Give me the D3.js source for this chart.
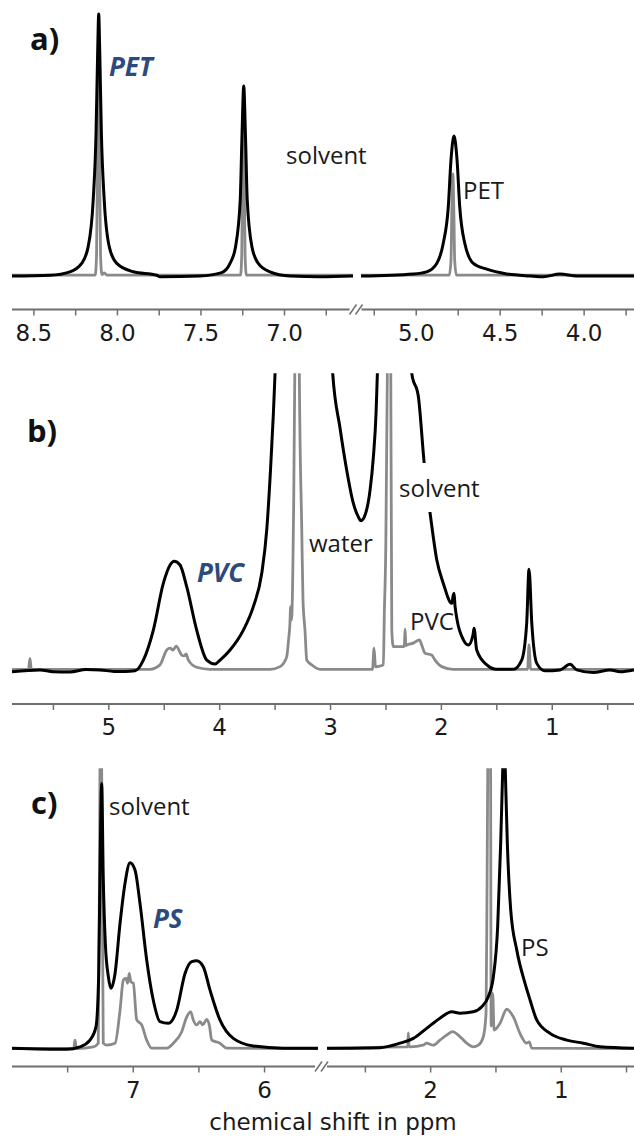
<!DOCTYPE html>
<html>
<head>
<meta charset="UTF-8">
<script src="https://d3js.org/d3.v7.min.js"></script>
<style>
  body { margin: 0; background: #fff; }
  svg { display: block; }
</style>
</head>
<body>
<svg></svg>
<script>
// ---- data: [chemical shift (ppm), intensity (0..100 of panel height)] ----
// a) PET
const petDomain = [8.628, 6.587, 5.326, 3.70];
const petTicks = [8.5, 8.0, 7.5, 7.0, 5.0, 4.5, 4.0];
const petMinor = [8.25, 7.75, 7.25, 6.75, 5.25, 4.75, 4.25, 3.75];
const petBlackLeft = [[8.628,0],[8.40,0.3],[8.281,1.6],[8.211,4.8],[8.172,11.2],[8.142,29],[8.125,54.5],[8.115,86.3],[8.109,100],[8.103,86.3],[8.093,54.5],[8.076,29],[8.046,11.2],[8.001,4.8],[7.902,1.6],[7.762,0.3],[7.742,-0.3],[7.503,0],[7.373,1.3],[7.323,4.8],[7.290,11.2],[7.262,29],[7.251,54.5],[7.241,72.5],[7.231,54.5],[7.220,29],[7.192,11.2],[7.154,4.8],[7.084,1.6],[6.964,0],[6.785,-0.3],[6.587,0]];
const petBlackRight = [[5.326,0],[5.015,0.8],[4.935,1.6],[4.875,4.8],[4.836,12.5],[4.806,26.5],[4.790,44.3],[4.772,53.4],[4.754,44.3],[4.738,26.5],[4.708,12.5],[4.657,4.8],[4.577,2.6],[4.458,0.8],[4.319,0],[4.240,-0.3],[4.141,0.8],[4.041,0],[3.70,0]];
const petGrayLeft = [[8.628,0.3],[8.13,0.3],[8.122,8],[8.116,45],[8.110,80],[8.104,45],[8.098,8],[8.09,0.5],[8.075,1.2],[8.06,0.3],[7.26,0.3],[7.253,8],[7.248,40],[7.243,62],[7.238,40],[7.233,8],[7.225,0.3],[6.587,0.3]];
const petGrayRight = [[5.326,0.3],[4.80,0.3],[4.79,6],[4.785,25],[4.779,39],[4.773,25],[4.768,6],[4.758,0.3],[3.70,0.3]];

// b) PVC
const pvcDomain = [5.869, 0.258];
const pvcTicks = [5, 4, 3, 2, 1];
const pvcMinor = [5.5, 4.5, 3.5, 2.5, 1.5, 0.5];
const pvcBlack = [[5.869,-0.4],[5.616,0.2],[5.50,-0.4],[5.346,-0.5],[5.20,0.3],[5.075,0.2],[4.95,-0.3],[4.849,-0.3],[4.759,-0.1],[4.684,3.5],[4.594,13.6],[4.504,29.3],[4.443,35.5],[4.407,36.8],[4.353,35.5],[4.293,28.2],[4.203,13.6],[4.112,3.5],[4.037,2.2],[3.992,3.5],[3.902,6.9],[3.782,13.6],[3.692,21.5],[3.616,32.7],[3.571,47.3],[3.537,67.5],[3.511,86.5],[3.496,100],[3.478,115],[3.30,400],[3.0,115],[2.976,100],[2.910,81.6],[2.850,67.5],[2.790,56.3],[2.745,51.7],[2.720,50.4],[2.684,52.3],[2.639,60.7],[2.609,71.9],[2.585,86.5],[2.573,100],[2.555,120],[2.48,400],[2.28,120],[2.263,100],[2.203,92.1],[2.152,70.3],[2.125,60.7],[2.098,53.1],[2.037,37.2],[1.978,29.3],[1.902,22.6],[1.888,25.4],[1.881,26],[1.872,21.5],[1.797,10.3],[1.752,8.6],[1.71,12],[1.701,14.2],[1.677,6.9],[1.586,1.9],[1.496,0.4],[1.346,0.4],[1.271,3.5],[1.226,15.9],[1.205,34.1],[1.180,15.9],[1.135,2.4],[1.061,-0.1],[0.925,0.2],[0.835,2.1],[0.774,0.2],[0.625,-0.7],[0.474,0.2],[0.384,-0.4],[0.258,0.2]];
const pvcGray = [[5.869,0.4],[5.72,0.4],[5.707,4.1],[5.695,0.4],[4.624,0.4],[4.534,1.9],[4.473,6.9],[4.443,7.5],[4.416,6.9],[4.389,8.2],[4.338,5.2],[4.317,4.9],[4.299,5.6],[4.278,3.5],[4.203,1.1],[4.083,0.4],[3.541,0.4],[3.451,1.3],[3.391,4.6],[3.374,10.3],[3.363,15],[3.355,21.5],[3.347,17],[3.331,47.3],[3.318,100],[3.298,400],[3.277,100],[3.255,47.3],[3.244,23.7],[3.226,13.6],[3.210,3.5],[3.165,1.9],[3.090,0.4],[2.669,0.4],[2.617,0.4],[2.603,7.5],[2.59,1.2],[2.573,1.3],[2.519,1.9],[2.510,19.8],[2.499,37],[2.483,100],[2.468,400],[2.452,100],[2.443,13.6],[2.429,8],[2.339,8],[2.330,8.2],[2.323,13.9],[2.316,8.4],[2.308,8.6],[2.249,9.2],[2.194,10.3],[2.173,8.6],[2.143,5.8],[2.083,5.2],[2.053,3.5],[1.992,1.3],[1.888,0.4],[1.218,0.4],[1.205,8.6],[1.191,0.4],[0.258,0.4]];

// c) PS
const psDomain = [7.92, 5.589, 2.79, 0.439];
const psTicks = [7, 6, 2, 1];
const psMinor = [7.5, 6.5, 2.5, 1.5, 0.5];
const psBlackLeft = [[7.92,0.1],[7.503,-0.3],[7.402,0.6],[7.326,3.0],[7.280,7.8],[7.260,25.6],[7.250,61.3],[7.237,94.6],[7.225,61.3],[7.209,37.5],[7.186,25.6],[7.166,21.5],[7.135,26.8],[7.097,44.7],[7.059,59],[7.021,66.3],[6.983,63.7],[6.945,51.8],[6.894,31.6],[6.844,17.3],[6.793,9.6],[6.729,9.0],[6.665,13.7],[6.602,26.8],[6.551,31],[6.513,31.3],[6.463,29.2],[6.412,20.9],[6.336,10.2],[6.234,3.6],[6.082,0.9],[5.853,0.1],[5.589,0.1]];
const psBlackRight = [[2.79,0.1],[2.384,0.3],[2.231,1.9],[2.129,3.6],[2.027,7.2],[1.925,10.8],[1.835,13.1],[1.771,12.6],[1.670,13.1],[1.605,14.9],[1.555,18.5],[1.516,25.6],[1.483,43.5],[1.460,73.2],[1.444,100],[1.434,115],[1.425,100],[1.409,73.2],[1.383,49.4],[1.337,35.2],[1.274,23.3],[1.235,17.3],[1.184,10.2],[1.082,5.4],[0.954,3.0],[0.827,1.9],[0.699,0.6],[0.439,0.1]];
const psGrayLeft = [[7.92,0],[7.45,0],[7.44,3.0],[7.43,0],[7.301,0.6],[7.263,1.9],[7.255,53],[7.250,100],[7.244,200],[7.237,100],[7.231,53],[7.225,1.9],[7.199,1.2],[7.135,1.9],[7.097,13.7],[7.072,24.4],[7.052,25.1],[7.039,23.3],[7.027,26.8],[7.014,23.8],[6.996,23.3],[6.970,10.2],[6.932,8.4],[6.894,3.0],[6.856,0.1],[6.742,0.1],[6.691,1.9],[6.627,6.0],[6.589,11.3],[6.559,13.1],[6.539,10.2],[6.513,8.4],[6.488,9.6],[6.467,8.4],[6.437,10.4],[6.417,8.4],[6.398,3.0],[6.336,1.9],[6.284,0.1],[5.589,0]];
const psGrayRight = [[2.79,0],[2.180,0.6],[2.172,0.6],[2.167,5.6],[2.162,0.6],[2.154,0.6],[2.053,1.2],[2.027,1.9],[1.976,1.2],[1.925,3.0],[1.873,4.8],[1.827,6.0],[1.785,4.8],[1.720,1.9],[1.670,0.6],[1.631,1.2],[1.593,4.2],[1.572,12.6],[1.565,53],[1.559,100],[1.548,250],[1.537,100],[1.533,8],[1.521,19.7],[1.511,6.6],[1.465,9.0],[1.414,14.0],[1.363,11.3],[1.312,5.4],[1.261,1.9],[1.241,2.4],[1.222,0.1],[0.439,0]];

// ---- drawing ----
let width = 634, height = 1136;
let svg = d3.select("svg").attr("width", width).attr("height", height);

const axisColor = "#6f6f6f", grayColor = "#8a8a8a", blue = "#2d4a7c";
const annoFont = "'Open Sans', 'Noto Sans', sans-serif";
const axisFont = "'DejaVu Sans', Verdana, sans-serif";

function drawPanel(p) {
    let x = d3.scaleLinear().domain(p.domain).range(p.range);
    let y = d3.scaleLinear().domain([0, 100]).range([p.baseY, p.topY]);
    let g = svg.append("g");

    g.append("clipPath").attr("id", "clip-" + p.name)
        .append("rect")
        .attr("x", 0).attr("y", p.clipTop)
        .attr("width", width).attr("height", p.axisY - p.clipTop);

    let line = d3.line()
        .x(d => x(d[0]))
        .y(d => y(d[1]))
        .curve(d3.curveMonotoneX);

    let plot = g.append("g").attr("clip-path", "url(#clip-" + p.name + ")");
    p.gray.forEach(s => {
        plot.append("path").datum(s).attr("d", line)
            .attr("fill", "none").attr("stroke", grayColor)
            .attr("stroke-width", 2.8).attr("stroke-linejoin", "round");
    });
    p.black.forEach(s => {
        plot.append("path").datum(s).attr("d", line)
            .attr("fill", "none").attr("stroke", "#000")
            .attr("stroke-width", 3).attr("stroke-linejoin", "round");
    });

    // axis
    let ax = g.append("g").attr("transform", "translate(0," + p.axisY + ")");
    ax.append("g")
        .call(d3.axisBottom(x).tickValues(p.minor).tickSize(6).tickFormat(""))
        .call(a => a.select(".domain").remove());
    ax.append("g")
        .call(d3.axisBottom(x).tickValues(p.ticks).tickSize(6).tickPadding(9).tickFormat(p.fmt))
        .call(a => a.select(".domain").remove());
    ax.selectAll(".tick line").attr("stroke", axisColor).attr("stroke-width", 1.5);
    ax.selectAll(".tick text")
        .attr("font-family", axisFont).attr("font-size", 23).attr("fill", "#1a1a1a");

    let segs;
    if (p.domain.length === 4) {
        let mid = (x(p.domain[1]) + x(p.domain[2])) / 2;
        segs = [[p.range[0], mid - 7.5], [mid + 4.5, p.range[3]]];
        [mid - 4, mid + 2].forEach(sx => {
            ax.append("line")
                .attr("x1", sx - 3.5).attr("y1", 5)
                .attr("x2", sx + 3.5).attr("y2", -5)
                .attr("stroke", axisColor).attr("stroke-width", 1.5);
        });
    } else {
        segs = [[p.range[0], p.range[1]]];
    }
    segs.forEach(s => {
        ax.append("line")
            .attr("x1", s[0]).attr("x2", s[1]).attr("y1", 0).attr("y2", 0)
            .attr("stroke", axisColor).attr("stroke-width", 2);
    });
    return g;
}

drawPanel({
    name: "a", domain: petDomain, range: [12, 353, 361, 634],
    baseY: 276, topY: 14, clipTop: 0, axisY: 309.5,
    ticks: petTicks, minor: petMinor, fmt: d3.format(".1f"),
    gray: [petGrayLeft, petGrayRight], black: [petBlackLeft, petBlackRight]
});
drawPanel({
    name: "b", domain: pvcDomain, range: [12, 634],
    baseY: 670.5, topY: 373.3, clipTop: 373.3, axisY: 704,
    ticks: pvcTicks, minor: pvcMinor, fmt: d3.format("d"),
    gray: [pvcGray], black: [pvcBlack]
});
drawPanel({
    name: "c", domain: psDomain, range: [12, 318, 327, 634],
    baseY: 1048.5, topY: 768.3, clipTop: 768.3, axisY: 1066.5,
    ticks: psTicks, minor: psMinor, fmt: d3.format("d"),
    gray: [psGrayLeft, psGrayRight], black: [psBlackLeft, psBlackRight]
});

// label box that interrupts the black curve in b)
svg.append("rect").attr("x", 397).attr("y", 463).attr("width", 90).attr("height", 49).attr("fill", "#fff");

function label(txt, x, y, opt) {
    opt = opt || {};
    svg.append("text")
        .attr("x", x).attr("y", y)
        .attr("font-family", opt.family || annoFont)
        .attr("font-size", opt.size || 24)
        .attr("font-weight", opt.weight || "normal")
        .attr("font-style", opt.style || "normal")
        .attr("text-anchor", opt.anchor || "start")
        .attr("fill", opt.fill || "#1a1a1a")
        .text(txt);
}

// panel letters
label("a)", 30, 50, {size: 31, weight: "bold", fill: "#111"});
label("b)", 27, 442, {size: 31, weight: "bold", fill: "#111"});
label("c)", 31, 814, {size: 31, weight: "bold", fill: "#111"});

// polymer names
label("PET", 109, 76, {size: 26, weight: "bold", style: "italic", fill: blue});
label("PVC", 197, 582, {size: 26, weight: "bold", style: "italic", fill: blue});
label("PS", 153, 928, {size: 26, weight: "bold", style: "italic", fill: blue});

// peak annotations
label("solvent", 286, 164);
label("PET", 463, 199);
label("water", 309, 552);
label("solvent", 399, 497);
label("PVC", 410, 630);
label("solvent", 109, 815);
label("PS", 521, 956);

label("chemical shift in ppm", 333, 1130, {family: axisFont, size: 23, anchor: "middle"});
</script>
</body>
</html>
